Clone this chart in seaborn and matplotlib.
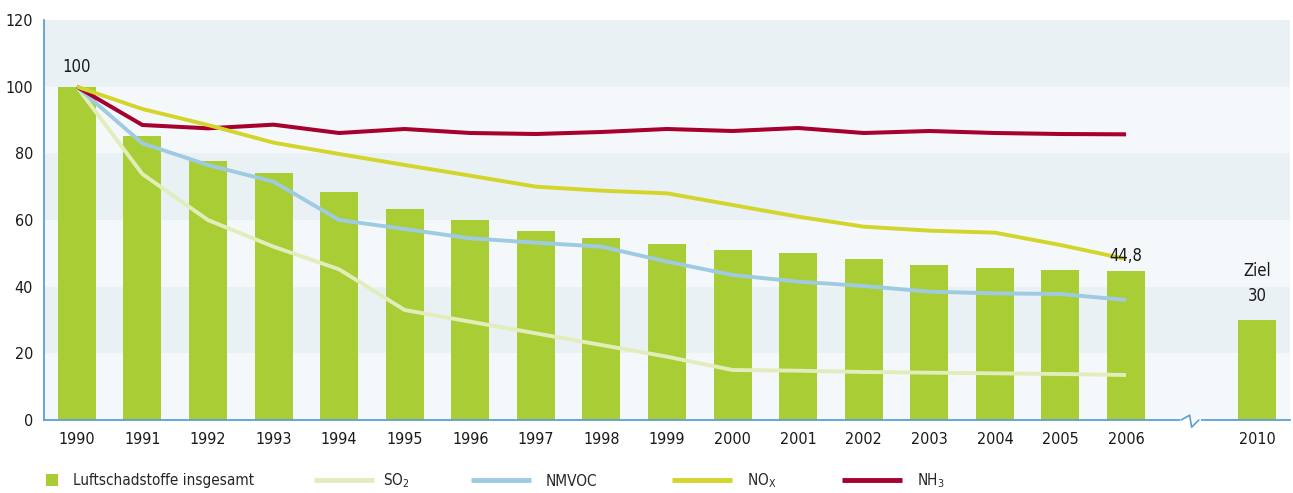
import numpy as np
import pandas as pd
import matplotlib
matplotlib.use("Agg")
import matplotlib.pyplot as plt
from matplotlib.lines import Line2D
from matplotlib.patches import Patch
import matplotlib.transforms as mtransforms
import seaborn as sns

# ---- data (index 1990 = 100) ----
years_hist = [1990, 1991, 1992, 1993, 1994, 1995, 1996, 1997, 1998, 1999,
              2000, 2001, 2002, 2003, 2004, 2005, 2006]
target_year = 2010
total = [100, 85.2, 77.7, 74.1, 68.4, 63.3, 60.0, 56.7, 54.6, 52.8,
         51.0, 50.1, 48.4, 46.6, 45.6, 45.1, 44.8]
target_total = 30
so2 = [100, 73.8, 60.0, 52.0, 45.2, 33.0, 29.5, 26.0, 22.5, 19.0,
       15.0, 14.8, 14.4, 14.2, 14.0, 13.8, 13.5]
nmvoc = [100, 83.0, 76.5, 71.5, 60.0, 57.3, 54.5, 53.2, 52.0, 47.5,
         43.5, 41.5, 40.2, 38.5, 38.0, 37.8, 36.0]
nox = [100, 93.3, 88.5, 83.2, 79.8, 76.5, 73.3, 70.0, 68.8, 68.0,
       64.5, 61.0, 58.0, 56.8, 56.2, 52.5, 48.3]
nh3 = [100, 88.5, 87.5, 88.6, 86.1, 87.3, 86.1, 85.8, 86.4, 87.3,
       86.7, 87.6, 86.1, 86.7, 86.1, 85.8, 85.7]

labels_legend = ["Luftschadstoffe insgesamt", "SO$_\\mathregular{2}$", "NMVOC",
                 "NO$_\\mathregular{X}$", "NH$_\\mathregular{3}$"]

# ---- colours ----
c_bar = "#a9cd35"
c_so2 = "#e2edbb"
c_nmvoc = "#9ecbe1"
c_nox = "#d3d52a"
c_nh3 = "#a6002f"
c_axis = "#5d9fd4"
c_band_light = "#f4f8fa"
c_band_dark = "#e9f1f5"
c_text = "#1a1a1a"

sns.set_theme(style="white")
plt.rcParams["font.family"] = ["DejaVu Sans"]
plt.rcParams["font.stretch"] = "condensed"
plt.rcParams["mathtext.fontset"] = "custom"
plt.rcParams["mathtext.rm"] = "DejaVu Sans:stretch=condensed"

# slot positions: historic years side by side, one empty slot before the target
pos_hist = list(range(len(years_hist)))
pos_target = len(years_hist) + 1
positions = pos_hist + [pos_target]
years_all = years_hist + [target_year]
values_all = total + [target_total]

bars = pd.DataFrame({"pos": positions, "wert": values_all})

fig = plt.figure(figsize=(12.93, 4.93), dpi=100)
ax = fig.add_axes([44 / 1293, 1 - 420 / 493, (1290 - 44) / 1293, 400 / 493])

# alternating horizontal bands
for i, lo in enumerate(range(0, 120, 20)):
    ax.axhspan(lo, lo + 20, color=c_band_light if i % 2 == 0 else c_band_dark,
               lw=0, zorder=0)

sns.barplot(data=bars, x="pos", y="wert", native_scale=True, width=0.58,
            color=c_bar, saturation=1, edgecolor="none", ax=ax, zorder=2)

for series, col, lw, z in [(so2, c_so2, 2.8, 3), (nmvoc, c_nmvoc, 2.8, 4),
                           (nh3, c_nh3, 2.9, 5), (nox, c_nox, 2.8, 6)]:
    sns.lineplot(x=pos_hist, y=series, color=col, lw=lw, ax=ax, zorder=z,
                 legend=False, solid_capstyle="butt")

ax.set_xlim(-0.5, pos_target + 0.5)
ax.set_ylim(0, 120)
ax.set_xlabel("")
ax.set_ylabel("")

# axes styling
for s in ["top", "right"]:
    ax.spines[s].set_visible(False)
for s in ["left", "bottom"]:
    ax.spines[s].set_color(c_axis)
    ax.spines[s].set_linewidth(1.3)
    ax.spines[s].set_zorder(7)

ax.set_xticks(positions)
ax.set_xticklabels([str(y) for y in years_all], fontsize=11.5, color=c_text)
ax.set_xticks(np.arange(-0.5, pos_target + 1, 1), minor=True)
ax.tick_params(axis="x", which="major", length=0, pad=9)
ax.tick_params(axis="x", which="minor", length=4, width=1.2, color=c_axis,
               direction="out")
ax.set_yticks(range(0, 121, 20))
ax.set_yticklabels([str(v) for v in range(0, 121, 20)], fontsize=11.5, color=c_text)
ax.tick_params(axis="y", length=4, width=1.2, color=c_axis, direction="out", pad=4)
ax.grid(False)

# axis break between the historic years and the target year
trans = mtransforms.blended_transform_factory(ax.transData, ax.transAxes)
brk_x = pos_target - 1
ax.plot([brk_x - 0.16, brk_x + 0.11], [0, 0], color="white", lw=2.5,
        transform=trans, clip_on=False, zorder=8)
ax.plot([brk_x - 0.16, brk_x - 0.03, brk_x + 0.0, brk_x + 0.11],
        [0, 0.012, -0.018, 0], color=c_axis, lw=1.2,
        transform=trans, clip_on=False, zorder=9)

def de_num(v):
    return f"{v:g}".replace(".", ",")

# value labels
ax.annotate(de_num(total[0]), (pos_hist[0], total[0]), xytext=(0, 8),
            textcoords="offset points", ha="center", va="bottom",
            fontsize=12, color=c_text, zorder=10)
ax.annotate(de_num(total[-1]), (pos_hist[-1], total[-1]), xytext=(0, 4),
            textcoords="offset points", ha="center", va="bottom",
            fontsize=12, color=c_text, zorder=10)
ax.annotate("Ziel\n" + de_num(target_total), (pos_target, target_total),
            xytext=(0, 11), textcoords="offset points", ha="center",
            va="bottom", fontsize=12, color=c_text, linespacing=1.45, zorder=10)

# legend entries along the bottom
leg_fs = 11
handles = [Patch(facecolor=c_bar, edgecolor="none"),
           Line2D([], [], color=c_so2, lw=3.5, solid_capstyle="butt"),
           Line2D([], [], color=c_nmvoc, lw=3.5, solid_capstyle="butt"),
           Line2D([], [], color=c_nox, lw=3.5, solid_capstyle="butt"),
           Line2D([], [], color=c_nh3, lw=3.5, solid_capstyle="butt")]
leg_x = [45.5, 314, 471, 672, 842]
leg_pad = [0.98, 0.55, 0.95, 0.95, 0.95]
for h, lab, x, pad in zip(handles, labels_legend, leg_x, leg_pad):
    is_patch = isinstance(h, Patch)
    fig.legend([h], [lab], loc="center left",
               bbox_to_anchor=(x / 1293, 1 - 481 / 493),
               frameon=False, fontsize=leg_fs,
               handlelength=0.85 if is_patch else 3.95,
               handleheight=0.85,
               handletextpad=pad,
               borderpad=0, borderaxespad=0)

fig.savefig("out.png", dpi=100, facecolor="white")
